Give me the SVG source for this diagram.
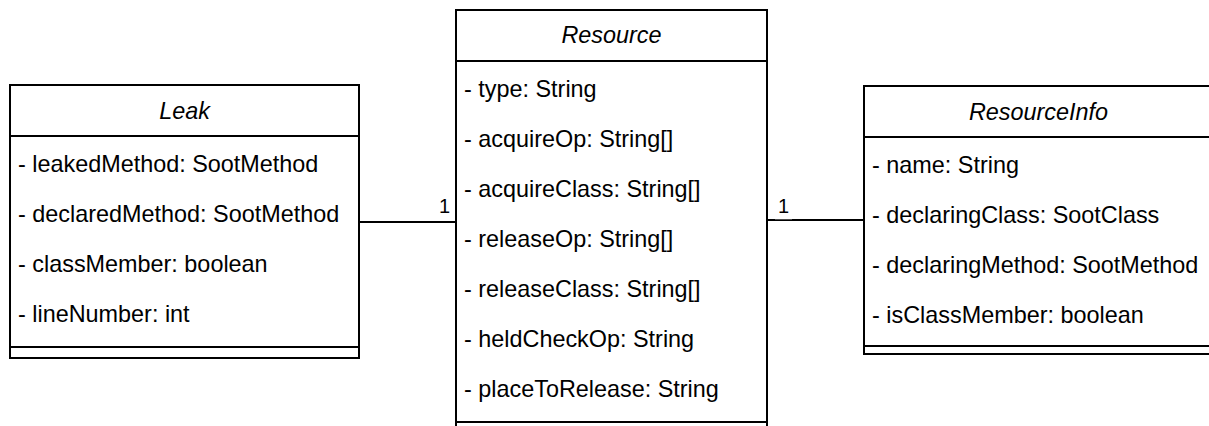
<svg xmlns="http://www.w3.org/2000/svg" width="1209" height="426" viewBox="0 0 1209 426">
  <style>
    .box { fill: #ffffff; stroke: #000000; stroke-width: 2; }
    .sep { stroke: #000000; stroke-width: 2; fill: none; }
    .title { font-family: "Liberation Sans", Arial, sans-serif; font-size: 23.4px; font-style: italic; text-anchor: middle; fill: #000000; }
    .attr { font-family: "Liberation Sans", Arial, sans-serif; font-size: 23.4px; fill: #000000; }
    .mult { font-family: "Liberation Sans", Arial, sans-serif; font-size: 20px; fill: #000000; }
    .edge { stroke: #000000; stroke-width: 2; fill: none; }
  </style>
  <rect width="1209" height="426" fill="#ffffff"/>

  <!-- associations -->
  <g id="connectors">
    <line class="edge" x1="359" y1="222" x2="456" y2="222"/>
    <text class="mult" x="450" y="213" text-anchor="end">1</text>
    <line class="edge" x1="767" y1="220" x2="864" y2="220"/>
    <rect x="775" y="198" width="17" height="21.3" fill="#ffffff"/>
    <text class="mult" x="778" y="213">1</text>
  </g>

  <!-- Leak class -->
  <g id="leak">
    <rect class="box" x="10" y="85" width="349" height="273"/>
    <line class="sep" x1="10" y1="136" x2="359" y2="136"/>
    <line class="sep" x1="10" y1="347" x2="359" y2="347"/>
    <text class="title" x="184.5" y="119">Leak</text>
    <text class="attr" x="18" y="172">- leakedMethod: SootMethod</text>
    <text class="attr" x="18" y="222">- declaredMethod: SootMethod</text>
    <text class="attr" x="18" y="272">- classMember: boolean</text>
    <text class="attr" x="18" y="322">- lineNumber: int</text>
  </g>

  <!-- Resource class -->
  <g id="resource">
    <rect class="box" x="456" y="10" width="311" height="430"/>
    <line class="sep" x1="456" y1="61" x2="767" y2="61"/>
    <line class="sep" x1="456" y1="422" x2="767" y2="422"/>
    <text class="title" x="611.5" y="43">Resource</text>
    <text class="attr" x="464" y="97">- type: String</text>
    <text class="attr" x="464" y="147">- acquireOp: String[]</text>
    <text class="attr" x="464" y="197">- acquireClass: String[]</text>
    <text class="attr" x="464" y="247">- releaseOp: String[]</text>
    <text class="attr" x="464" y="297">- releaseClass: String[]</text>
    <text class="attr" x="464" y="347">- heldCheckOp: String</text>
    <text class="attr" x="464" y="397">- placeToRelease: String</text>
  </g>

  <!-- ResourceInfo class -->
  <g id="resourceinfo">
    <rect class="box" x="864" y="86" width="349" height="268"/>
    <line class="sep" x1="864" y1="137" x2="1213" y2="137"/>
    <line class="sep" x1="864" y1="346" x2="1213" y2="346"/>
    <text class="title" x="1038.5" y="120">ResourceInfo</text>
    <text class="attr" x="872" y="173">- name: String</text>
    <text class="attr" x="872" y="223">- declaringClass: SootClass</text>
    <text class="attr" x="872" y="273">- declaringMethod: SootMethod</text>
    <text class="attr" x="872" y="323">- isClassMember: boolean</text>
  </g>
</svg>
